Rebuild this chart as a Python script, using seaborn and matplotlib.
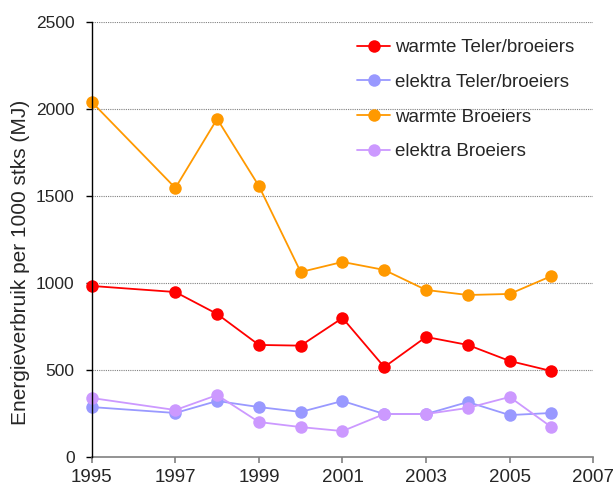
import pandas as pd
import matplotlib.pyplot as plt
import seaborn as sns

years = [1995, 1997, 1998, 1999, 2000, 2001, 2002, 2003, 2004, 2005, 2006]
warmte_teler = [983, 948, 822, 644, 640, 799, 517, 690, 644, 552, 494]
elektra_teler = [287, 253, 322, 287, 259, 322, 247, 247, 316, 241, 253]
warmte_broeiers = [2040, 1546, 1943, 1557, 1063, 1121, 1075, 960, 931, 937, 1040]
elektra_broeiers = [339, 270, 356, 201, 172, 149, 247, 247, 282, 345, 172]

series = {
    "warmte Teler/broeiers": warmte_teler,
    "elektra Teler/broeiers": elektra_teler,
    "warmte Broeiers": warmte_broeiers,
    "elektra Broeiers": elektra_broeiers,
}
colors = ["#FF0000", "#9999FF", "#FF9900", "#CC99FF"]

rows = []
for name, vals in series.items():
    for yr, v in zip(years, vals):
        rows.append({"Jaar": yr, "Waarde": v, "Reeks": name})
data = pd.DataFrame(rows)

sns.set_style("white")
plt.rcParams["font.family"] = ["Liberation Sans", "DejaVu Sans"]

f = plt.figure(figsize=(6.16, 4.88), dpi=100)
ax = f.add_axes([0.149, 0.0635, 0.814, 0.8915])

sns.lineplot(
    data=data,
    x="Jaar",
    y="Waarde",
    hue="Reeks",
    hue_order=list(series.keys()),
    palette=colors,
    marker="o",
    markersize=9,
    markeredgewidth=0,
    linewidth=1.3,
    ax=ax,
    zorder=3,
)
for line in ax.lines:
    line.set_clip_on(False)

ax.set_xlim(1995, 2007)
ax.set_ylim(0, 2500)
ax.set_xticks(range(1995, 2008, 2))
ax.set_yticks(range(0, 2501, 500))
for yv in range(500, 2501, 500):
    ax.axhline(yv, color="#808080", linestyle=(0, (1, 1)), linewidth=0.8, zorder=1)

for s in ["top", "right"]:
    ax.spines[s].set_visible(False)
ax.spines["left"].set_color("black")
ax.spines["bottom"].set_color("#808080")
ax.spines["left"].set_linewidth(1.0)
ax.spines["bottom"].set_linewidth(1.2)
ax.spines["left"].set_zorder(4)
ax.tick_params(axis="y", direction="out", length=4.3, width=1, color="black",
               labelsize=12.5, pad=8, left=True)
ax.tick_params(axis="x", direction="out", length=4.3, width=1.2, color="#808080",
               labelsize=13.5, pad=4.3, bottom=True)
ax.set_xlabel("")
ax.set_ylabel("Energieverbruik per 1000 stks (MJ)", fontsize=15)
ax.yaxis.set_label_coords(-0.124, 0.448)

ax.legend(loc="upper left", bbox_to_anchor=(0.529, 0.96), frameon=False,
          fontsize=13.5, labelspacing=0.93, handlelength=1.76, handletextpad=0.27,
          borderaxespad=0, borderpad=0)

f.savefig("out.png")
